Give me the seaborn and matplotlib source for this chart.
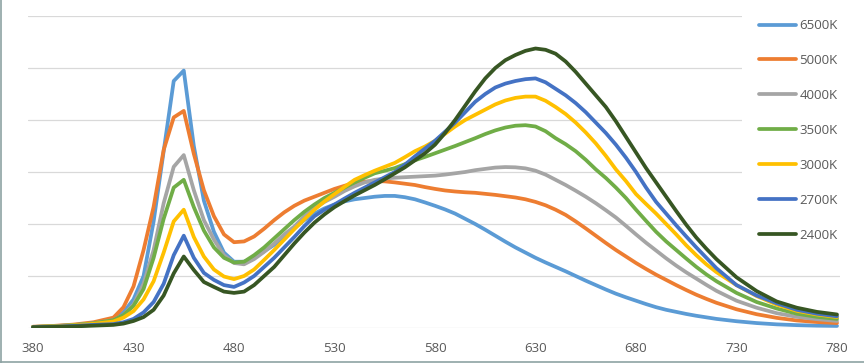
import pandas as pd
import numpy as np
import matplotlib
matplotlib.use('Agg')
import matplotlib.pyplot as plt
from matplotlib.lines import Line2D
import seaborn as sns

# Spectral power distribution per colour temperature (relative units)
wavelength = ([380, 390, 400, 410] + list(range(420, 721, 5)) +
              [730, 740, 750, 760, 770, 780])

k6500 = [.004, .006, .009, .016,
         .035, .06, .11, .2, .41, .68, .95, .99, .7, .49, .37, .29, .255, .255, .27, .295,
         .32, .355, .385, .415, .44, .46, .475, .487, .495, .5, .505, .508, .508, .503, .495,
         .483, .47, .456, .44, .42, .4, .378, .355, .332, .31, .29, .27, .252, .235, .218,
         .2, .182, .165, .148, .132, .118, .105, .092, .08, .07, .062, .054, .047, .041, .035,
         .026, .019, .014, .011, .009, .008]
k5000 = [.005, .008, .013, .022,
         .04, .08, .16, .3, .466, .685, .81, .835, .67, .53, .43, .36, .33, .333, .352, .382,
         .415, .445, .47, .49, .505, .52, .535, .547, .558, .563, .565, .564, .56, .555, .55,
         .542, .535, .529, .525, .522, .52, .516, .512, .507, .502, .495, .485, .472, .455, .435,
         .41, .383, .355, .327, .3, .275, .25, .227, .205, .185, .165, .146, .128, .112, .097,
         .072, .053, .039, .029, .023, .019]
k4000 = [.004, .007, .011, .018,
         .03, .05, .09, .17, .3, .48, .62, .665, .53, .415, .34, .28, .25, .245, .265, .293,
         .325, .36, .39, .43, .46, .485, .505, .527, .545, .56, .57, .575, .578, .58, .582,
         .584, .586, .59, .595, .6, .607, .612, .617, .619, .618, .614, .605, .59, .57, .55,
         .528, .505, .48, .453, .425, .393, .36, .328, .298, .268, .24, .214, .19, .166, .143,
         .105, .078, .057, .043, .034, .027]
k3500 = [.004, .007, .011, .018,
         .03, .05, .085, .15, .27, .42, .54, .57, .465, .375, .31, .27, .252, .255, .28, .31,
         .345, .38, .415, .447, .475, .5, .52, .54, .56, .578, .595, .605, .615, .63, .645,
         .658, .672, .686, .7, .715, .73, .746, .76, .771, .778, .78, .775, .757, .73, .707,
         .68, .647, .61, .577, .54, .5, .455, .412, .37, .333, .3, .267, .235, .206, .18,
         .135, .1, .075, .055, .043, .035]
k3000 = [.004, .006, .01, .016,
         .025, .04, .065, .11, .18, .29, .41, .455, .35, .275, .225, .198, .188, .2, .225, .262,
         .3, .34, .38, .418, .455, .487, .515, .543, .57, .588, .605, .62, .635, .657, .68,
         .698, .72, .747, .775, .8, .82, .84, .86, .875, .885, .89, .89, .874, .85, .823,
         .79, .752, .71, .662, .61, .565, .515, .477, .44, .4, .36, .318, .28, .245, .215,
         .165, .123, .09, .066, .052, .042]
k2700 = [.003, .005, .008, .012,
         .015, .022, .035, .06, .1, .17, .28, .355, .27, .212, .185, .165, .158, .175, .2, .235,
         .27, .31, .35, .392, .43, .455, .475, .498, .52, .54, .56, .58, .6, .628, .66,
         .69, .72, .755, .79, .83, .87, .9, .925, .94, .95, .957, .96, .945, .92, .895,
         .865, .83, .79, .75, .705, .655, .6, .54, .485, .44, .395, .352, .31, .27, .23,
         .165, .125, .095, .07, .055, .045]
k2400 = [.003, .004, .006, .009,
         .012, .017, .027, .042, .07, .125, .21, .275, .223, .177, .158, .14, .135, .14, .165, .2,
         .235, .28, .325, .367, .405, .437, .465, .488, .51, .53, .55, .572, .595, .618, .645,
         .672, .705, .75, .8, .855, .91, .96, 1.0, 1.03, 1.05, 1.066, 1.075, 1.07, 1.055, 1.025,
         .985, .94, .895, .85, .795, .735, .675, .615, .56, .505, .45, .397, .348, .305, .265,
         .195, .142, .102, .078, .062, .052]

labels = ['6500K', '5000K', '4000K', '3500K', '3000K', '2700K', '2400K']
series = [k6500, k5000, k4000, k3500, k3000, k2700, k2400]
colors = ['#5B9BD5', '#ED7D31', '#A5A5A5', '#70AD47', '#FFC000', '#4472C4', '#375623']

df = pd.concat([pd.DataFrame({'nm': wavelength, 'value': v, 'cct': lab})
                for lab, v in zip(labels, series)], ignore_index=True)

sns.set_style('white')
plt.rcParams['font.family'] = ['Open Sans', 'DejaVu Sans']
text_color = '#595959'

fig = plt.figure(figsize=(8.64, 3.63), dpi=100)
ax = fig.add_axes([28 / 864, 35 / 363, 812 / 864, 312 / 363])

sns.lineplot(data=df, x='nm', y='value', hue='cct', hue_order=labels,
             palette=dict(zip(labels, colors)), linewidth=2.7,
             estimator=None, sort=False, ax=ax)
for ln in ax.get_lines():
    ln.set_solid_capstyle('round')
    ln.set_solid_joinstyle('round')

ax.set_xlim(377.5, 781.5)
ax.set_ylim(0, 1.2)
ax.set_xticks(np.arange(380, 781, 50))
ax.set_yticks(np.arange(0, 1.21, 0.2))
ax.set_yticklabels([])
ax.yaxis.grid(True, color='#D9D9D9', linewidth=0.9)
ax.xaxis.grid(False)
ax.set_axisbelow(True)
for s in ax.spines.values():
    s.set_visible(False)
ax.tick_params(axis='both', length=0)
ax.tick_params(axis='x', labelsize=9.5, labelcolor=text_color, pad=10)
ax.set_xlabel('')
ax.set_ylabel('')

h, l = ax.get_legend_handles_labels()
leg = ax.legend(h, l, loc='upper left', bbox_to_anchor=(742 / 864, 361 / 363),
                bbox_transform=fig.transFigure, frameon=True, facecolor='white',
                edgecolor='none', framealpha=1, fancybox=False, borderpad=1.3,
                labelspacing=1.66, handlelength=2.8, handletextpad=0.25,
                fontsize=9.5, borderaxespad=0, labelcolor=text_color)
for lh in leg.get_lines():
    lh.set_linewidth(2.7)

# thin frame remnants at left and bottom edge
fig.add_artist(Line2D([0.0015, 0.0015], [0, 1], transform=fig.transFigure,
                      color='#8DA3A3', linewidth=1.2))
fig.add_artist(Line2D([0, 1], [1.5 / 363, 1.5 / 363], transform=fig.transFigure,
                      color='#8DA3A3', linewidth=1.2))

fig.savefig('out.png', dpi=100)
